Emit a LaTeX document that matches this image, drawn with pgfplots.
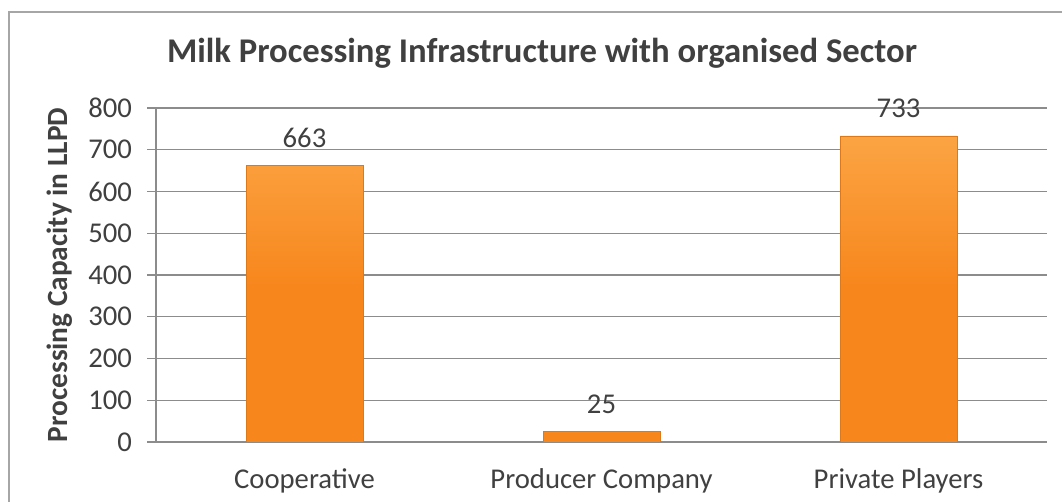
\documentclass[border=0pt]{standalone}
\usepackage{pgfplots}
\pgfplotsset{compat=1.18}
\usepackage{fontspec}
\setmainfont{Carlito}
\definecolor{txt}{HTML}{404040}
\definecolor{gridc}{HTML}{8C8C8C}
\definecolor{frame}{HTML}{A6A6A6}
\definecolor{barmain}{HTML}{F7861C}
\definecolor{bartop}{HTML}{FBA443}
\begin{document}
\begin{tikzpicture}[x=0.75pt,y=0.75pt]
\useasboundingbox (0,0) rectangle (1062,502);
\draw[color=frame, line width=1.2pt] (9,0) -- (9,490) -- (1062,490);
\node[font=\bfseries\fontsize{26}{26}\selectfont, text=txt, anchor=base] at (542,439) {Milk Processing Infrastructure with organised Sector};
\begin{axis}[
  at={(117pt,45pt)}, anchor=south west,
  scale only axis, width=668.25pt, height=250.5pt,
  xmin=-0.5, xmax=2.5, ymin=0, ymax=800,
  ytick={0,100,...,800},
  xtick={0,1,2},
  xticklabels={Cooperative, Producer Company, Private Players},
  axis lines*=left,
  axis line style={gridc, line width=1.2pt},
  ymajorgrids, grid style={gridc, line width=0.9pt},
  tick align=outside,
  major tick length=6.5pt,
  y tick style={gridc, line width=0.9pt},
  x tick style={draw=none},
  tick label style={font=\fontsize{21.5}{21.5}\selectfont, text=txt},
  xticklabel style={yshift=-10pt},
  yticklabel style={xshift=-8pt},
  /pgf/number format/assume math mode=true,
  ylabel={\bfseries Processing Capacity in LLPD},
  ylabel style={at={(axis description cs:-0.108,0.5)}, anchor=center, font=\fontsize{22}{22}\selectfont, text=txt},
  ybar, bar width=87.75pt, bar shift=0pt,
  nodes near coords,
  every node near coord/.append style={font=\fontsize{21.5}{21.5}\selectfont, text=txt, yshift=10pt},
]
\addplot[draw=barmain!90!black, line width=0.3pt, top color=bartop, bottom color=barmain, middle color=barmain] coordinates {(0,663) (1,25) (2,733)};
\end{axis}
\end{tikzpicture}
\end{document}
